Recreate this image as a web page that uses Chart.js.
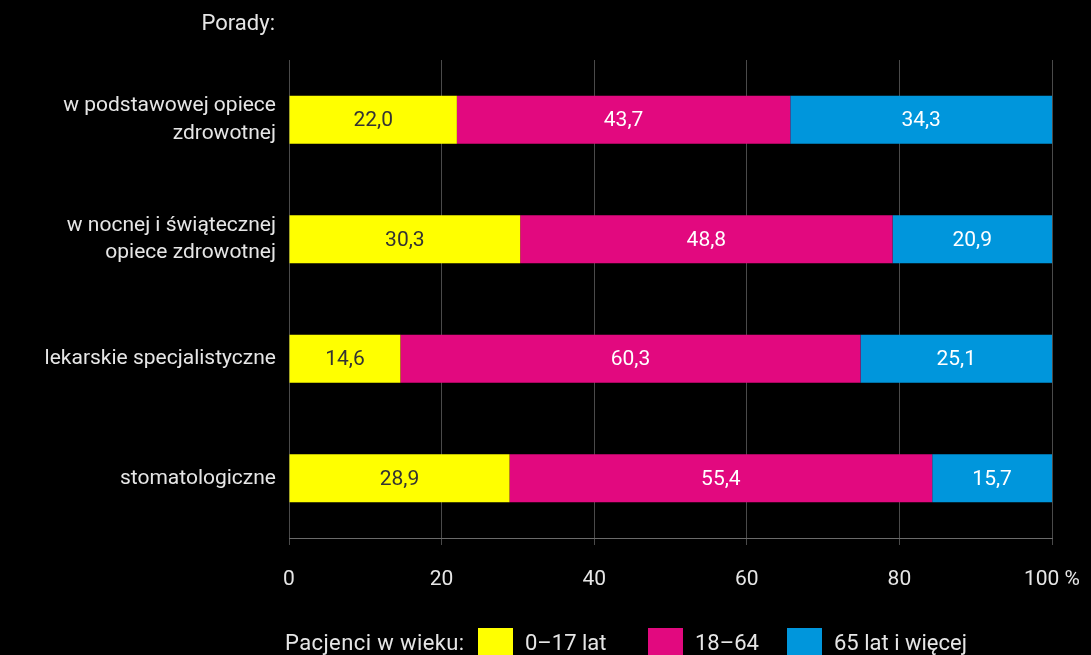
<!DOCTYPE html>
<html>
<head>
<meta charset="utf-8">
<script src="https://cdn.jsdelivr.net/npm/chart.js@4"></script>
<style>
  html, body { margin: 0; padding: 0; background: #000; }
  #wrap { position: relative; width: 1091px; height: 655px; overflow: hidden; font-family: Roboto, sans-serif; color: #e6e6e6; }
  #title { position: absolute; right: 816px; top: 10px; font-size: 22px; }
  #legend { position: absolute; left: 0; top: 627px; width: 1091px; height: 30px; font-size: 22px; white-space: nowrap; }
  #legend > span { position: absolute; top: 0; display: flex; align-items: center; height: 30px; }
  #legend .box { display: inline-block; width: 35px; height: 28px; margin-right: 12px; }
</style>
</head>
<body>
<div id="wrap">
  <canvas id="myChart" width="1091" height="655"></canvas>
  <div id="title">Porady:</div>
  <div id="legend"><span style="left:285px; letter-spacing:0.4px">Pacjenci w wieku:</span></div>
</div>
<script>
const categories = [
  ["w podstawowej opiece", "zdrowotnej"],
  ["w nocnej i świątecznej", "opiece zdrowotnej"],
  "lekarskie specjalistyczne",
  "stomatologiczne",
];
const seriesNames = ["0–17 lat", "18–64", "65 lat i więcej"];
const kids = [22.0, 30.3, 14.6, 28.9];
const adults = [43.7, 48.8, 60.3, 55.4];
const seniors = [34.3, 20.9, 25.1, 15.7];
const xTicks = [0, 20, 40, 60, 80, 100];
const colors = ["#ffff00", "#e2097f", "#0096dc"];
const labelColors = ["#333333", "#ffffff", "#ffffff"];
const legendLeft = [478, 648, 787];
const fontName = "Roboto";

const legend = document.querySelector("#legend");
seriesNames.forEach((name, i) => {
  const item = document.createElement("span");
  item.style.left = legendLeft[i] + "px";
  item.innerHTML = `<span class="box" style="background:${colors[i]}"></span>${name}`;
  legend.appendChild(item);
});

// numbers inside the bar segments, polish decimal comma
const barLabels = {
  id: "barLabels",
  afterDatasetsDraw(chart) {
    const ctx = chart.ctx;
    ctx.save();
    ctx.font = `21px ${fontName}`;
    ctx.textAlign = "center";
    ctx.textBaseline = "middle";
    chart.data.datasets.forEach((ds, i) => {
      chart.getDatasetMeta(i).data.forEach((bar, j) => {
        const x = (bar.x + bar.base) / 2;
        ctx.fillStyle = labelColors[i];
        ctx.fillText(ds.data[j].toFixed(1).replace(".", ","), x, bar.y + 1);
      });
    });
    ctx.restore();
  },
};

const gridColor = "#4a4a4a";

new Chart(document.querySelector("#myChart"), {
  type: "bar",
  data: {
    labels: categories,
    datasets: [kids, adults, seniors].map((d, i) => ({
      label: seriesNames[i],
      data: d,
      backgroundColor: colors[i],
      borderWidth: 0,
      barPercentage: 0.4,
      categoryPercentage: 1,
    })),
  },
  options: {
    indexAxis: "y",
    responsive: false,
    animation: false,
    layout: { padding: { top: 60, right: 39, bottom: 0, left: 0 } },
    plugins: { legend: { display: false }, tooltip: { enabled: false } },
    scales: {
      x: {
        stacked: true,
        min: 0,
        max: 100,
        afterBuildTicks: (s) => { s.ticks = xTicks.map((v) => ({ value: v })); },
        afterFit: (s) => { s.height = 117; s.paddingLeft = 0; s.paddingRight = 0; },
        grid: { color: gridColor, tickLength: 7, lineWidth: 1 },
        border: { color: "#6a6a6a", width: 1 },
        ticks: {
          color: "#e6e6e6",
          font: { family: fontName, size: 21 },
          padding: 22,
          callback: (v) => (v === 100 ? "100 %" : v),
        },
      },
      y: {
        stacked: true,
        afterFit: (s) => { s.width = 289; },
        grid: { display: false },
        border: { display: false },
        ticks: {
          color: "#e6e6e6",
          font: { family: fontName, size: 21, lineHeight: 1.33 },
          padding: 5,
        },
      },
    },
  },
  plugins: [barLabels],
});
</script>
</body>
</html>
